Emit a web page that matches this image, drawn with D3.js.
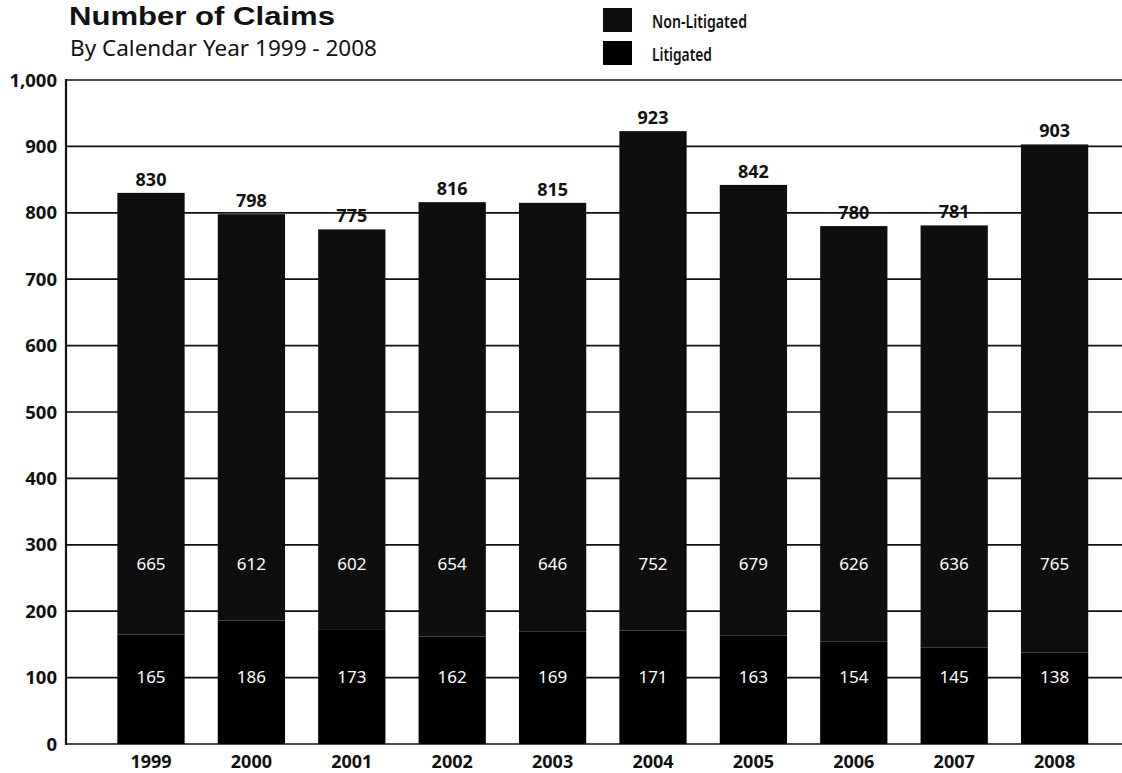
<!DOCTYPE html>
<html><head><meta charset="utf-8">
<script src="https://cdn.jsdelivr.net/npm/d3@7"></script>
<style>
html,body{margin:0;padding:0;background:#fff;}
svg{display:block;}
</style></head>
<body>
<svg id="chart" width="1122" height="773"></svg>
<script>
const years = ["1999","2000","2001","2002","2003","2004","2005","2006","2007","2008"];
const nonLitigated = [665,612,602,654,646,752,679,626,636,765];
const litigated = [165,186,173,162,169,171,163,154,145,138];
const totals = [830,798,775,816,815,923,842,780,781,903];
const yTicks = [0,100,200,300,400,500,600,700,800,900,1000];
const seriesNames = ["Non-Litigated","Litigated"];
const colors = {"Non-Litigated":"#0e0e0e","Litigated":"#000000"};
// label anchor values (data units) used in the original layout
const nonLitLabelAt = 262;
const litLabelAt = 92;

const svg = d3.select("#chart");
const y = d3.scaleLinear().domain([0,1000]).range([744,80]);
const x = d3.scaleBand().domain(years).range([100.8,1104.8]).paddingInner(0.33).paddingOuter(0.165);
const axisX = 66;

const fontMain = "'Noto Sans', 'Open Sans', sans-serif";
const fontTitle = "'Liberation Sans', Arial, sans-serif";

// gridlines
svg.append("g").selectAll("line").data(yTicks).join("line")
  .attr("x1", axisX).attr("x2", 1122)
  .attr("y1", d=>y(d)).attr("y2", d=>y(d))
  .attr("stroke","#111").attr("stroke-width",1.7);
// y axis line
svg.append("line").attr("x1",axisX).attr("x2",axisX).attr("y1",y(1000)-1).attr("y2",y(0)+1)
  .attr("stroke","#111").attr("stroke-width",2.2);

// y tick labels
svg.append("g").selectAll("text").data(yTicks).join("text")
  .attr("x", 57).attr("y", d=>y(d)+6.5)
  .attr("text-anchor","end")
  .attr("font-family",fontMain).attr("font-weight","bold").attr("font-size",18.5)
  .attr("fill","#111")
  .text(d=>d3.format(",")(d));

// stacked data
const rows = years.map((yr,i)=>({year:yr,"Litigated":litigated[i],"Non-Litigated":nonLitigated[i]}));
const stack = d3.stack().keys(["Litigated","Non-Litigated"])(rows);

svg.append("g").selectAll("g").data(stack).join("g")
  .attr("fill", d=>colors[d.key])
  .selectAll("rect").data(d=>d).join("rect")
  .attr("x", d=>x(d.data.year))
  .attr("width", x.bandwidth())
  .attr("y", d=>y(d[1]))
  .attr("height", d=>y(d[0])-y(d[1]));

// total labels
svg.append("g").selectAll("text").data(years).join("text")
  .attr("x", d=>x(d)+x.bandwidth()/2)
  .attr("y", (d,i)=>y(totals[i])-7)
  .attr("text-anchor","middle")
  .attr("font-family",fontMain).attr("font-weight","bold").attr("font-size",18)
  .attr("fill","#111")
  .text((d,i)=>totals[i]);

// in-bar labels
svg.append("g").selectAll("text").data(years).join("text")
  .attr("x", d=>x(d)+x.bandwidth()/2)
  .attr("y", y(nonLitLabelAt))
  .attr("text-anchor","middle")
  .attr("font-family",fontMain).attr("font-size",17)
  .attr("fill","#fff")
  .text((d,i)=>nonLitigated[i]);
svg.append("g").selectAll("text").data(years).join("text")
  .attr("x", d=>x(d)+x.bandwidth()/2)
  .attr("y", y(litLabelAt))
  .attr("text-anchor","middle")
  .attr("font-family",fontMain).attr("font-size",17)
  .attr("fill","#fff")
  .text((d,i)=>litigated[i]);

// x labels
svg.append("g").selectAll("text").data(years).join("text")
  .attr("x", d=>x(d)+x.bandwidth()/2)
  .attr("y", 768)
  .attr("text-anchor","middle")
  .attr("font-family",fontMain).attr("font-weight","bold").attr("font-size",18)
  .attr("fill","#111")
  .text(d=>d);

// title
svg.append("text").attr("x",69).attr("y",25)
  .attr("font-family",fontTitle).attr("font-weight","bold").attr("font-size",26)
  .attr("textLength",266).attr("lengthAdjust","spacingAndGlyphs")
  .attr("fill","#111").text("Number of Claims");
svg.append("text").attr("x",70).attr("y",56)
  .attr("font-family",fontMain).attr("font-size",22)
  .attr("textLength",307).attr("lengthAdjust","spacingAndGlyphs")
  .attr("fill","#111").text("By Calendar Year 1999 - 2008");

// legend
const legLen = {"Non-Litigated":95,"Litigated":60};
const leg = svg.append("g").selectAll("g").data(seriesNames).join("g")
  .attr("transform",(d,i)=>`translate(603,${i===0?8:41})`);
leg.append("rect").attr("width",29).attr("height",24).attr("fill",d=>colors[d]);
leg.append("text").attr("x",49).attr("y",20)
  .attr("font-family",fontMain).attr("font-weight","600").attr("font-size",18)
  .attr("textLength",d=>legLen[d]).attr("lengthAdjust","spacingAndGlyphs")
  .attr("fill","#111").text(d=>d);
</script>
</body></html>
